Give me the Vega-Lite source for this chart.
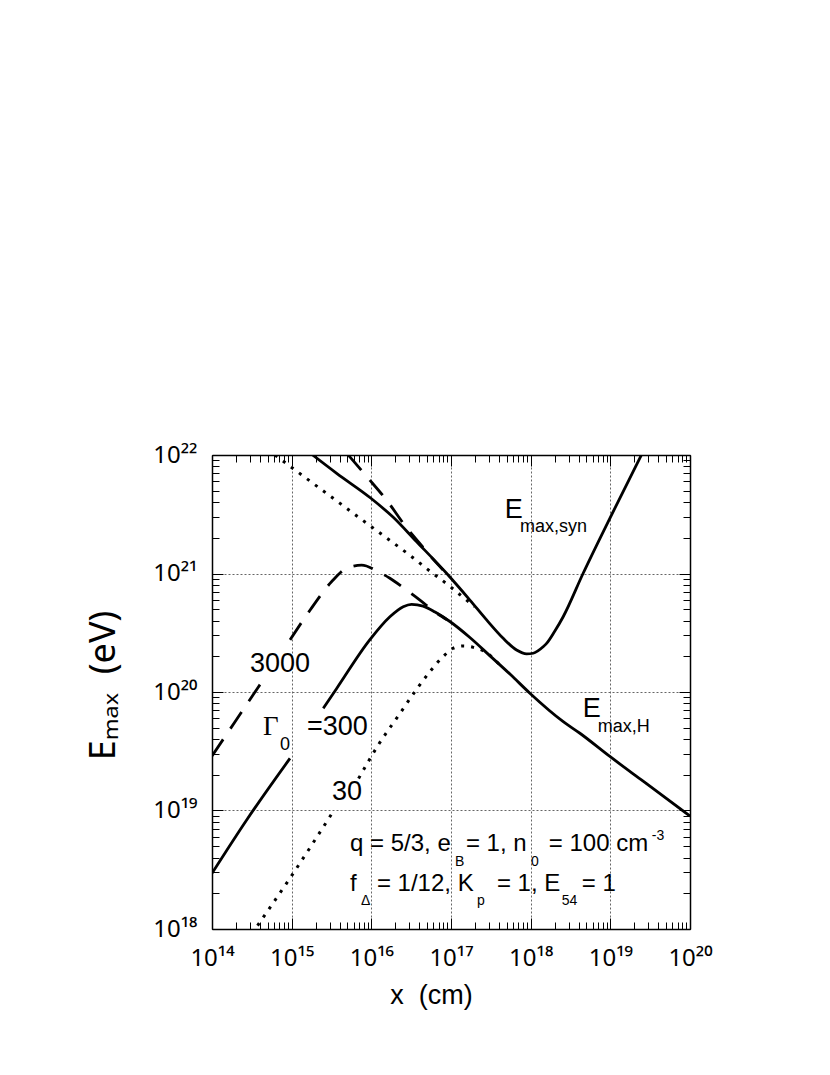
{
  "$schema": "https://vega.github.io/schema/vega-lite/v6.json",
  "width": 478,
  "height": 474,
  "autosize": "none",
  "padding": {"left": 212, "top": 455, "right": 140, "bottom": 146},
  "background": "white",
  "config": {"font": "Liberation Sans", "view": {"stroke": null}},
  "datasets": {
    "solid": [
      {"x": 1.832e15, "E": 1e22, "series": "syn300"},
      {"x": 3.673e15, "E": 7.0e21, "series": "syn300"},
      {"x": 9.886e15, "E": 4.315e21, "series": "syn300"},
      {"x": 1.884e16, "E": 2.979e21, "series": "syn300"},
      {"x": 3.524e16, "E": 1.919e21, "series": "syn300"},
      {"x": 8.79e16, "E": 1.005e21, "series": "syn300"},
      {"x": 1.726e17, "E": 5.97e20, "series": "syn300"},
      {"x": 2.799e17, "E": 4.055e20, "series": "syn300"},
      {"x": 4.519e17, "E": 2.838e20, "series": "syn300"},
      {"x": 6.653e17, "E": 2.259e20, "series": "syn300"},
      {"x": 8.892e17, "E": 2.094e20, "series": "syn300"},
      {"x": 1.076e18, "E": 2.123e20, "series": "syn300"},
      {"x": 1.435e18, "E": 2.41e20, "series": "syn300"},
      {"x": 1.585e18, "E": 2.57e20, "series": "syn300"},
      {"x": 1.995e18, "E": 3.236e20, "series": "syn300"},
      {"x": 2.559e18, "E": 4.315e20, "series": "syn300"},
      {"x": 4.56e18, "E": 1.005e21, "series": "syn300"},
      {"x": 9.863e18, "E": 2.924e21, "series": "syn300"},
      {"x": 2.455e19, "E": 1e22, "series": "syn300"},
      {"x": 1e14, "E": 2.951e18, "series": "h300a"},
      {"x": 2.723e14, "E": 8.318e18, "series": "h300a"},
      {"x": 9.528e14, "E": 2.754e19, "series": "h300a"},
      {"x": 2.495e15, "E": 7.278e19, "series": "h300b"},
      {"x": 3.673e15, "E": 1.072e20, "series": "h300b"},
      {"x": 9.55e15, "E": 2.754e20, "series": "h300b"},
      {"x": 1.71e16, "E": 4.315e20, "series": "h300b"},
      {"x": 2.512e16, "E": 5.248e20, "series": "h300b"},
      {"x": 3.199e16, "E": 5.495e20, "series": "h300b"},
      {"x": 4.467e16, "E": 5.309e20, "series": "h300b"},
      {"x": 6.31e16, "E": 4.732e20, "series": "h300b"},
      {"x": 9.683e16, "E": 3.936e20, "series": "h300b"},
      {"x": 1.726e17, "E": 2.884e20, "series": "h300b"},
      {"x": 3.09e17, "E": 2.018e20, "series": "h300b"},
      {"x": 5.623e17, "E": 1.396e20, "series": "h300b"},
      {"x": 9.772e17, "E": 9.772e19, "series": "h300b"},
      {"x": 2.564e18, "E": 5.623e19, "series": "h300b"},
      {"x": 4.15e18, "E": 4.487e19, "series": "h300b"},
      {"x": 9.863e18, "E": 2.858e19, "series": "h300b"},
      {"x": 2.582e19, "E": 1.766e19, "series": "h300b"},
      {"x": 1e20, "E": 8.974e18, "series": "h300b"}
    ],
    "dashed": [
      {"x": 5.129e15, "E": 1e22, "series": "syn3000"},
      {"x": 8.71e15, "E": 6.607e21, "series": "syn3000"},
      {"x": 1.549e16, "E": 4.169e21, "series": "syn3000"},
      {"x": 2.818e16, "E": 2.399e21, "series": "syn3000"},
      {"x": 3.981e16, "E": 1.82e21, "series": "syn3000"},
      {"x": 5.623e16, "E": 1.38e21, "series": "syn3000"},
      {"x": 7.943e16, "E": 1.072e21, "series": "syn3000"},
      {"x": 1e14, "E": 2.884e19, "series": "h3000a"},
      {"x": 1.995e14, "E": 5.754e19, "series": "h3000a"},
      {"x": 4.169e14, "E": 1.202e20, "series": "h3000a"},
      {"x": 9.55e14, "E": 2.754e20, "series": "h3000b"},
      {"x": 1.698e15, "E": 4.898e20, "series": "h3000b"},
      {"x": 3.162e15, "E": 8.511e20, "series": "h3000b"},
      {"x": 4.898e15, "E": 1.107e21, "series": "h3000b"},
      {"x": 7.551e15, "E": 1.175e21, "series": "h3000b"},
      {"x": 1.222e16, "E": 1.035e21, "series": "h3000b"},
      {"x": 1.71e16, "E": 9.12e20, "series": "h3000b"},
      {"x": 2.773e16, "E": 7.244e20, "series": "h3000b"},
      {"x": 4.074e16, "E": 5.97e20, "series": "h3000b"},
      {"x": 6.31e16, "E": 4.732e20, "series": "h3000b"},
      {"x": 8.913e16, "E": 4.074e20, "series": "h3000b"}
    ],
    "dotted": [
      {"x": 6.166e14, "E": 1e22, "series": "syn30"},
      {"x": 1e15, "E": 7.852e21, "series": "syn30"},
      {"x": 3.162e15, "E": 4.416e21, "series": "syn30"},
      {"x": 1e16, "E": 2.483e21, "series": "syn30"},
      {"x": 3.162e16, "E": 1.396e21, "series": "syn30"},
      {"x": 5.433e16, "E": 1.047e21, "series": "syn30"},
      {"x": 9.772e16, "E": 7.762e20, "series": "syn30"},
      {"x": 1.413e17, "E": 6.31e20, "series": "syn30"},
      {"x": 1.995e17, "E": 5.248e20, "series": "syn30"},
      {"x": 3.162e14, "E": 9.12e17, "series": "h30a"},
      {"x": 1e15, "E": 2.818e18, "series": "h30a"},
      {"x": 3.311e15, "E": 9.772e18, "series": "h30a"},
      {"x": 6.918e15, "E": 1.862e19, "series": "h30b"},
      {"x": 1.222e16, "E": 3.573e19, "series": "h30b"},
      {"x": 2.239e16, "E": 6.457e19, "series": "h30b"},
      {"x": 3.767e16, "E": 1.072e20, "series": "h30b"},
      {"x": 5.433e16, "E": 1.483e20, "series": "h30b"},
      {"x": 7.943e16, "E": 1.986e20, "series": "h30b"},
      {"x": 1.072e17, "E": 2.344e20, "series": "h30b"},
      {"x": 1.413e17, "E": 2.443e20, "series": "h30b"},
      {"x": 1.905e17, "E": 2.382e20, "series": "h30b"},
      {"x": 2.818e17, "E": 2.138e20, "series": "h30b"},
      {"x": 3.981e17, "E": 1.726e20, "series": "h30b"}
    ],
    "bigText": [
      {"x": 4.742e17, "E": 2.938e21, "t": "E"},
      {"x": 4.519e18, "E": 6.152e19, "t": "E"},
      {"x": 3.0e14, "E": 1.476e20, "t": "3000"},
      {"x": 1.556e15, "E": 4.335e19, "t": "=300"},
      {"x": 3.206e15, "E": 1.227e19, "t": "30"}
    ],
    "gammaText": [
      {"x": 4.365e14, "E": 4.335e19, "t": "Γ"}
    ],
    "subText": [
      {"x": 7.328e17, "E": 2.239e21, "t": "max,syn"},
      {"x": 6.966e18, "E": 4.592e19, "t": "max,H"},
      {"x": 7.129e14, "E": 3.243e19, "t": "0"}
    ],
    "noteText": [
      {"x": 5.395e15, "E": 4.55e18, "t": "q = 5/3, e"},
      {"x": 1.538e17, "E": 4.55e18, "t": "= 1, n"},
      {"x": 1.69e18, "E": 4.55e18, "t": "= 100 cm"},
      {"x": 5.395e15, "E": 2.094e18, "t": "f"},
      {"x": 1.175e16, "E": 2.094e18, "t": "= 1/12, K"},
      {"x": 3.767e17, "E": 2.094e18, "t": "= 1, E"},
      {"x": 4.385e18, "E": 2.094e18, "t": "= 1"}
    ],
    "noteSmall": [
      {"x": 1.119e17, "E": 3.404e18, "t": "B"},
      {"x": 1.007e18, "E": 3.404e18, "t": "0"},
      {"x": 3.319e19, "E": 5.636e18, "t": "-3"},
      {"x": 7.413e15, "E": 1.596e18, "t": "Δ"},
      {"x": 2.113e17, "E": 1.596e18, "t": "p"},
      {"x": 2.46e18, "E": 1.596e18, "t": "54"}
    ]
  },
  "encoding": {
    "x": {"field": "x", "type": "quantitative", "scale": {"type": "log", "domain": [1e14, 1e20], "nice": false}, "axis": null},
    "y": {"field": "E", "type": "quantitative", "scale": {"type": "log", "domain": [1e18, 1e22], "nice": false}, "axis": null}
  },
  "layer": [
    {
      "data": {"name": "dotted"},
      "mark": {"type": "line", "color": "black", "strokeWidth": 3, "strokeDash": [3, 7], "clip": true, "interpolate": "monotone"},
      "encoding": {
        "detail": {"field": "series"},
        "x": {"field": "x", "type": "quantitative", "scale": {"type": "log", "domain": [1e14, 1e20], "nice": false},
          "axis": {
            "orient": "bottom",
            "values": [1e14,2e14,3e14,4e14,5e14,6e14,7e14,8e14,9e14,1e15,2e15,3e15,4e15,5e15,6e15,7e15,8e15,9e15,1e16,2e16,3e16,4e16,5e16,6e16,7e16,8e16,9e16,1e17,2e17,3e17,4e17,5e17,6e17,7e17,8e17,9e17,1e18,2e18,3e18,4e18,5e18,6e18,7e18,8e18,9e18,1e19,2e19,3e19,4e19,5e19,6e19,7e19,8e19,9e19,1e20],
            "labelExpr": "datum.value==1e14?'10¹⁴':datum.value==1e15?'10¹⁵':datum.value==1e16?'10¹⁶':datum.value==1e17?'10¹⁷':datum.value==1e18?'10¹⁸':datum.value==1e19?'10¹⁹':datum.value==1e20?'10²⁰':''",
            "labelFont": "Noto Sans", "labelFontSize": 24, "labelColor": "black",
            "labelFlush": false, "labelOverlap": false, "labelBound": false, "labelPadding": 28,
            "tickSize": {"condition": {"test": "abs(log(datum.value)/LN10-round(log(datum.value)/LN10))<0.001", "value": -11}, "value": -7},
            "tickColor": "black", "tickWidth": 1,
            "domainColor": "black", "domainWidth": 1.5,
            "grid": true, "gridColor": "#666", "gridDash": [2, 2], "gridWidth": 1,
            "gridOpacity": {"condition": {"test": "abs(log(datum.value)/LN10-round(log(datum.value)/LN10))<0.001", "value": 1}, "value": 0},
            "title": "x\u00a0\u00a0(cm)", "titleFont": "Liberation Sans", "titleFontSize": 27, "titleFontWeight": "normal", "titleColor": "black",
            "titleX": 219, "titleY": 74, "titleAlign": "center", "titleBaseline": "alphabetic"
          }
        },
        "y": {"field": "E", "type": "quantitative", "scale": {"type": "log", "domain": [1e18, 1e22], "nice": false},
          "axis": {
            "orient": "left",
            "values": [1e18,2e18,3e18,4e18,5e18,6e18,7e18,8e18,9e18,1e19,2e19,3e19,4e19,5e19,6e19,7e19,8e19,9e19,1e20,2e20,3e20,4e20,5e20,6e20,7e20,8e20,9e20,1e21,2e21,3e21,4e21,5e21,6e21,7e21,8e21,9e21,1e22],
            "labelExpr": "datum.value==1e18?'10¹⁸':datum.value==1e19?'10¹⁹':datum.value==1e20?'10²⁰':datum.value==1e21?'10²¹':datum.value==1e22?'10²²':''",
            "labelFont": "Noto Sans", "labelFontSize": 24, "labelColor": "black",
            "labelFlush": false, "labelOverlap": false, "labelBound": false, "labelPadding": 26,
            "tickSize": {"condition": {"test": "abs(log(datum.value)/LN10-round(log(datum.value)/LN10))<0.001", "value": -11}, "value": -7},
            "tickColor": "black", "tickWidth": 1,
            "domainColor": "black", "domainWidth": 1.5,
            "grid": true, "gridColor": "#666", "gridDash": [2, 2], "gridWidth": 1,
            "gridOpacity": {"condition": {"test": "abs(log(datum.value)/LN10-round(log(datum.value)/LN10))<0.001", "value": 1}, "value": 0},
            "title": "Eₘₐₓ\u00a0\u00a0(eV)", "titleFont": "Noto Sans", "titleFontSize": 36, "titleFontWeight": "normal", "titleColor": "black",
            "titleAngle": 270, "titleX": -98, "titleY": 230, "titleAlign": "center", "titleBaseline": "alphabetic"
          }
        }
      }
    },
    {
      "data": {"name": "dashed"},
      "mark": {"type": "line", "color": "black", "strokeWidth": 2.8, "strokeDash": [20, 13], "clip": true, "interpolate": "monotone"},
      "encoding": {
        "detail": {"field": "series"},
        "x": {"field": "x", "type": "quantitative", "scale": {"type": "log", "domain": [1e14, 1e20], "nice": false},
          "axis": {
            "orient": "top",
            "values": [1e14,2e14,3e14,4e14,5e14,6e14,7e14,8e14,9e14,1e15,2e15,3e15,4e15,5e15,6e15,7e15,8e15,9e15,1e16,2e16,3e16,4e16,5e16,6e16,7e16,8e16,9e16,1e17,2e17,3e17,4e17,5e17,6e17,7e17,8e17,9e17,1e18,2e18,3e18,4e18,5e18,6e18,7e18,8e18,9e18,1e19,2e19,3e19,4e19,5e19,6e19,7e19,8e19,9e19,1e20],
            "labels": false, "title": null, "grid": false,
            "tickSize": {"condition": {"test": "abs(log(datum.value)/LN10-round(log(datum.value)/LN10))<0.001", "value": -11}, "value": -7},
            "tickColor": "black", "tickWidth": 1,
            "domainColor": "black", "domainWidth": 1.5
          }
        },
        "y": {"field": "E", "type": "quantitative", "scale": {"type": "log", "domain": [1e18, 1e22], "nice": false},
          "axis": {
            "orient": "right",
            "values": [1e18,2e18,3e18,4e18,5e18,6e18,7e18,8e18,9e18,1e19,2e19,3e19,4e19,5e19,6e19,7e19,8e19,9e19,1e20,2e20,3e20,4e20,5e20,6e20,7e20,8e20,9e20,1e21,2e21,3e21,4e21,5e21,6e21,7e21,8e21,9e21,1e22],
            "labels": false, "title": null, "grid": false,
            "tickSize": {"condition": {"test": "abs(log(datum.value)/LN10-round(log(datum.value)/LN10))<0.001", "value": -11}, "value": -7},
            "tickColor": "black", "tickWidth": 1,
            "domainColor": "black", "domainWidth": 1.5
          }
        }
      }
    },
    {
      "data": {"name": "solid"},
      "mark": {"type": "line", "color": "black", "strokeWidth": 2.8, "clip": true, "interpolate": "monotone"},
      "encoding": {"detail": {"field": "series"}}
    },
    {
      "data": {"name": "bigText"},
      "mark": {"type": "text", "font": "Liberation Sans", "fontSize": 27, "align": "left", "baseline": "alphabetic", "color": "black"},
      "encoding": {"text": {"field": "t"}}
    },
    {
      "data": {"name": "gammaText"},
      "mark": {"type": "text", "font": "Liberation Serif", "fontSize": 27, "align": "left", "baseline": "alphabetic", "color": "black"},
      "encoding": {"text": {"field": "t"}}
    },
    {
      "data": {"name": "subText"},
      "mark": {"type": "text", "font": "Liberation Sans", "fontSize": 18, "align": "left", "baseline": "alphabetic", "color": "black"},
      "encoding": {"text": {"field": "t"}}
    },
    {
      "data": {"name": "noteText"},
      "mark": {"type": "text", "font": "Liberation Sans", "fontSize": 24, "align": "left", "baseline": "alphabetic", "color": "black"},
      "encoding": {"text": {"field": "t"}}
    },
    {
      "data": {"name": "noteSmall"},
      "mark": {"type": "text", "font": "Liberation Sans", "fontSize": 14, "align": "left", "baseline": "alphabetic", "color": "black"},
      "encoding": {"text": {"field": "t"}}
    }
  ],
  "resolve": {"axis": {"x": "independent", "y": "independent"}}
}
